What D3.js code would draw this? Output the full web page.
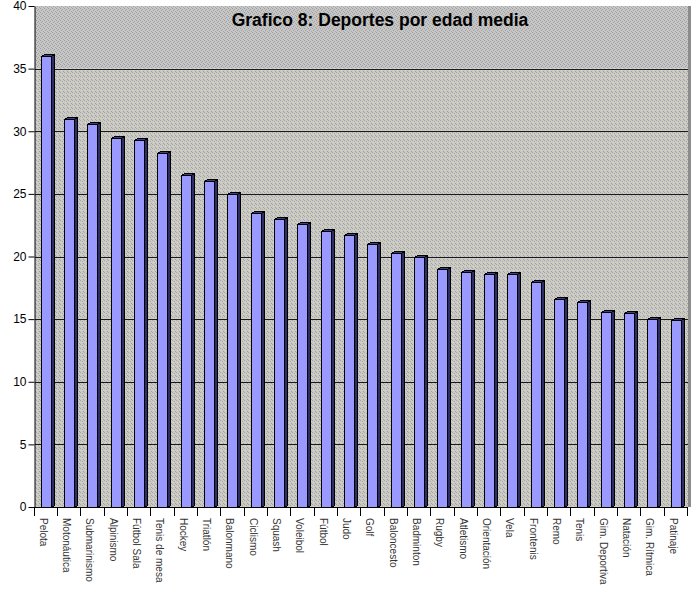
<!DOCTYPE html>
<html><head><meta charset="utf-8">
<script src="https://cdn.jsdelivr.net/npm/d3@7"></script>
<style>body{margin:0;background:#fff;} svg{display:block;}</style>
</head><body>
<svg id="c" width="694" height="595"></svg>
<script>
const categories = ["Pelota","Motonáutica","Submarinismo","Alpinismo","Fútbol Sala","Tenis de mesa","Hockey","Triatlón","Balonmano","Ciclismo","Squash","Voleibol","Fútbol","Judo","Golf","Baloncesto","Badminton","Rugby","Atletismo","Orientación","Vela","Frontenis","Remo","Tenis","Gim. Deportiva","Natación","Gim. Rítmica","Patinaje"];
const values = [36.0,31.0,30.6,29.5,29.3,28.3,26.5,26.0,25.0,23.5,23.0,22.6,22.0,21.7,21.0,20.3,20.0,19.0,18.8,18.6,18.6,18.0,16.6,16.4,15.6,15.5,15.0,14.9];
const yTicks = [0,5,10,15,20,25,30,35,40];
const title = "Grafico 8: Deportes por edad media";

const svg = d3.select("#c");
const defs = svg.append("defs");
function pattern(id, base, dots){
  const p = defs.append("pattern").attr("id",id).attr("patternUnits","userSpaceOnUse").attr("width",4).attr("height",4);
  p.append("rect").attr("width",4).attr("height",4).attr("fill",base);
  dots.forEach(d=>p.append("rect").attr("x",d[0]).attr("y",d[1]).attr("width",1).attr("height",1).attr("fill",d[2]));
}
pattern("wallTop","#c6c6c6",[[0,0,"#9c9c9c"],[2,1,"#a4a4a4"],[1,2,"#a0a0a0"],[3,3,"#a8a8a8"]]);
pattern("wallLow","#cacac2",[[0,0,"#a0a0cc"],[2,1,"#a8a8a8"],[1,2,"#dadaa4"],[3,3,"#9c9cc8"],[3,1,"#d2d2aa"]]);

const x0 = 33.5, x1 = 687, y0 = 507;
const x = d3.scaleBand().domain(categories).range([x0, x1]).padding(0);
const y = d3.scaleLinear().domain([0,40]).range([507,6]);

// wall
svg.append("rect").attr("x",35).attr("y",y(40)).attr("width",653).attr("height",y(35)-y(40)).attr("fill","url(#wallTop)");
svg.append("rect").attr("x",35).attr("y",y(35)).attr("width",653).attr("height",y0-y(35)).attr("fill","url(#wallLow)");
svg.append("rect").attr("x",688).attr("y",y(40)).attr("width",3).attr("height",y0-y(40)).attr("fill","#8c8c8c");

// gridlines
svg.append("g").selectAll("line").data(yTicks.filter(t=>t>0&&t<40)).join("line")
  .attr("x1",35).attr("x2",688).attr("y1",d=>Math.round(y(d))+0.5).attr("y2",d=>Math.round(y(d))+0.5)
  .attr("stroke","#1a1a1a").attr("stroke-width",1);

// bars
const off = 7, bw = 10, dx = 3, dy = 2;
const bars = svg.append("g").attr("shape-rendering","crispEdges");
categories.forEach((c,i)=>{
  const bx = Math.round(x(c)+off)+0.5, by = Math.round(y(values[i]))+0.5, base = y0+0.5;
  const g = bars.append("g");
  g.append("path").attr("d",`M${bx+bw},${by}L${bx+bw+dx},${by-dy}L${bx+bw+dx},${base-dy}L${bx+bw},${base}Z`)
    .attr("fill","#2e2e66").attr("stroke","#000");
  g.append("path").attr("d",`M${bx},${by}L${bx+dx},${by-dy}L${bx+bw+dx},${by-dy}L${bx+bw},${by}Z`)
    .attr("fill","#404080").attr("stroke","#000");
  g.append("rect").attr("x",bx).attr("y",by).attr("width",bw).attr("height",base-by)
    .attr("fill","#9999ff").attr("stroke","#000");
});

// y axis
const ya = svg.append("g").attr("transform","translate(34.5,0)")
  .call(d3.axisLeft(y).tickValues(yTicks).tickSize(6).tickSizeOuter(0).tickFormat(d3.format("d")));
ya.select(".domain").attr("stroke","#000");
ya.selectAll(".tick line").attr("stroke","#000");
ya.selectAll("text").attr("font-family","Liberation Sans, Arial, sans-serif").attr("font-size",12).attr("fill","#000").attr("x",-8);

// x axis
svg.append("line").attr("x1",33).attr("x2",688).attr("y1",y0+0.5).attr("y2",y0+0.5).attr("stroke","#000");
const bounds = categories.map(c=>x(c)).concat([x1]);
svg.append("g").selectAll("line").data(bounds).join("line")
  .attr("x1",d=>Math.round(d)+0.5).attr("x2",d=>Math.round(d)+0.5).attr("y1",y0).attr("y2",y0+9).attr("stroke","#000");
svg.append("g").selectAll("text").data(categories).join("text")
  .attr("transform",d=>`translate(${x(d)+9.5},${y0+11}) rotate(90)`)
  .attr("dominant-baseline","central")
  .attr("font-family","Liberation Sans, Arial, sans-serif").attr("font-size",10).attr("fill","#333")
  .text(d=>d);

// title
svg.append("text").attr("x",380).attr("y",26).attr("text-anchor","middle")
  .attr("font-family","Liberation Sans, Arial, sans-serif").attr("font-weight","bold").attr("font-size",17.5)
  .attr("fill","#000").text(title);
</script>
</body></html>
